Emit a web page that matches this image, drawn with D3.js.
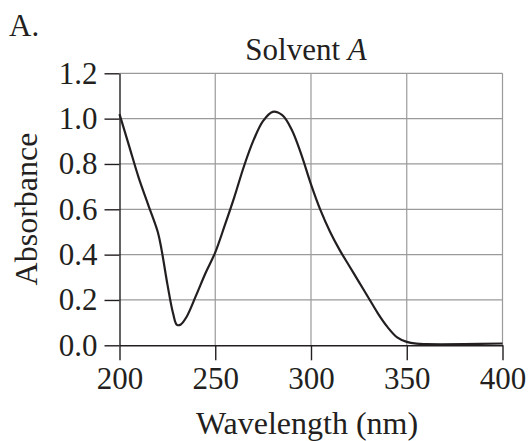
<!DOCTYPE html>
<html>
<head>
<meta charset="utf-8">
<script src="https://cdn.jsdelivr.net/npm/d3@7"></script>
<style>
  body { margin: 0; background: #fff; }
  svg { display: block; }
  text { font-family: "Liberation Serif", "Times New Roman", serif; fill: #231f20; }
  .axis path, .axis line { stroke: #231f20; stroke-width: 1.4; }
  .grid line { stroke: #9a9a9a; stroke-width: 1.2; }
</style>
</head>
<body>
<svg id="chart" width="531" height="441"></svg>
<script>
var wavelength = [200, 205, 210, 215, 220, 222, 225, 228, 230, 232, 235, 240, 245, 250, 255, 260, 265, 270, 275, 280, 285, 290, 295, 300, 305, 310, 315, 320, 325, 330, 335, 340, 345, 350, 355, 360, 380, 400];
var absorbance = [1.02, 0.88, 0.74, 0.62, 0.50, 0.42, 0.27, 0.14, 0.09, 0.092, 0.125, 0.22, 0.32, 0.41, 0.53, 0.655, 0.79, 0.905, 0.99, 1.03, 1.015, 0.95, 0.84, 0.71, 0.595, 0.50, 0.42, 0.35, 0.28, 0.21, 0.14, 0.08, 0.035, 0.015, 0.007, 0.005, 0.005, 0.008];
var xTicks = [200, 250, 300, 350, 400];
var yTicks = [0.0, 0.2, 0.4, 0.6, 0.8, 1.0, 1.2];

var svg = d3.select('#chart');
var margin = { top: 73.3, right: 28.5, bottom: 95.7, left: 119.5 };
var width = 531 - margin.left - margin.right;
var height = 441 - margin.top - margin.bottom;

var g = svg.append('g')
  .attr('transform', 'translate(' + margin.left + ',' + margin.top + ')');

var x = d3.scaleLinear().domain([200, 400]).range([0, width]);
var y = d3.scaleLinear().domain([0, 1.2]).range([height, 0]);

// grid
var grid = g.append('g').attr('class', 'grid');
grid.selectAll('line.v')
  .data(xTicks.slice(1))
  .enter().append('line')
  .attr('class', 'v')
  .attr('x1', function(d) { return x(d); })
  .attr('x2', function(d) { return x(d); })
  .attr('y1', 0)
  .attr('y2', height);
grid.selectAll('line.h')
  .data(yTicks.slice(1))
  .enter().append('line')
  .attr('class', 'h')
  .attr('x1', 0)
  .attr('x2', width)
  .attr('y1', function(d) { return y(d); })
  .attr('y2', function(d) { return y(d); });

var xAxis = d3.axisBottom(x)
  .tickValues(xTicks)
  .tickSize(15)
  .tickSizeOuter(0)
  .tickPadding(7)
  .tickFormat(d3.format('d'));

var yAxis = d3.axisLeft(y)
  .tickValues(yTicks)
  .tickSize(15)
  .tickSizeOuter(0)
  .tickPadding(7)
  .tickFormat(d3.format('.1f'));

g.append('g')
  .attr('class', 'axis axis--x')
  .attr('transform', 'translate(0,' + height + ')')
  .call(xAxis)
  .selectAll('text')
  .attr('font-size', 31)
  .attr('font-family', null);

g.append('g')
  .attr('class', 'axis axis--y')
  .call(yAxis)
  .selectAll('text')
  .attr('font-size', 31)
  .attr('font-family', null);

var points = wavelength.map(function(w, i) {
  return { w: w, a: absorbance[i] };
});

var line = d3.line()
  .x(function(d) { return x(d.w); })
  .y(function(d) { return y(d.a); })
  .curve(d3.curveCatmullRom.alpha(0.5));

g.append('path')
  .datum(points)
  .attr('fill', 'none')
  .attr('stroke', '#231f20')
  .attr('stroke-width', 2.2)
  .attr('d', line);

// labels
svg.append('text')
  .attr('x', 9)
  .attr('y', 36)
  .attr('font-size', 31)
  .text('A.');

var title = svg.append('text')
  .attr('x', 306)
  .attr('y', 60)
  .attr('text-anchor', 'middle')
  .attr('font-size', 31);
title.append('tspan').text('Solvent ');
title.append('tspan').attr('font-style', 'italic').text('A');

svg.append('text')
  .attr('x', 307)
  .attr('y', 434)
  .attr('text-anchor', 'middle')
  .attr('font-size', 32)
  .text('Wavelength (nm)');

svg.append('text')
  .attr('transform', 'translate(37,209) rotate(-90)')
  .attr('text-anchor', 'middle')
  .attr('font-size', 32)
  .text('Absorbance');
</script>
</body>
</html>
